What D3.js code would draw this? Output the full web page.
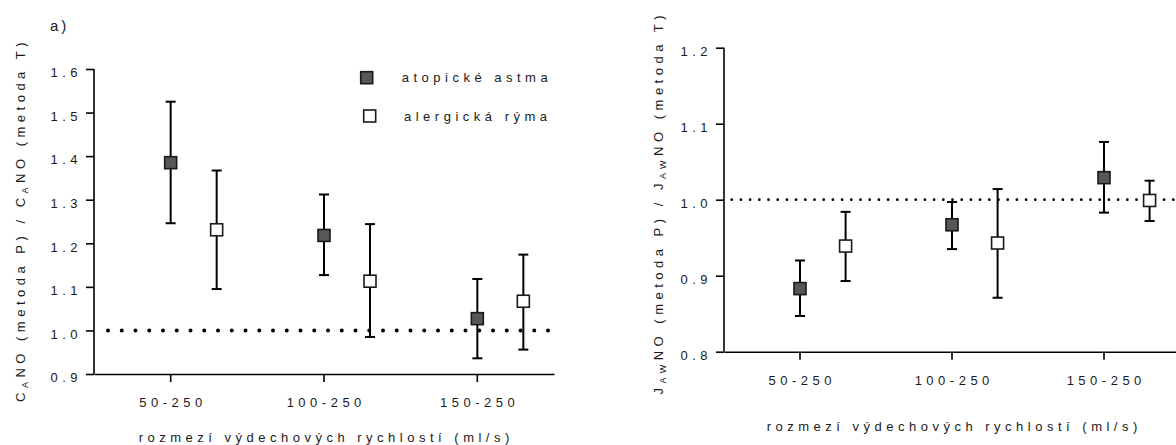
<!DOCTYPE html>
<html>
<head>
<meta charset="utf-8">
<script src="https://cdn.jsdelivr.net/npm/d3@7"></script>
<style>
  body { margin: 0; background: #fff; }
  svg text { font-family: "Liberation Sans", Arial, sans-serif; fill: #1a1a1a; }
</style>
</head>
<body>
<svg id="chart" width="1176" height="445"></svg>
<script>
const categories = ["50-250", "100-250", "150-250"];

// panel a) - C_A NO ratio
const caAsthmaMean = [1.385, 1.218, 1.027];
const caAsthmaLow = [1.246, 1.127, 0.936];
const caAsthmaHigh = [1.525, 1.312, 1.118];
const caRhinitisMean = [1.231, 1.113, 1.067];
const caRhinitisLow = [1.095, 0.985, 0.956];
const caRhinitisHigh = [1.367, 1.244, 1.174];
const caTicks = [0.9, 1.0, 1.1, 1.2, 1.3, 1.4, 1.5, 1.6];

// panel b) - J_AW NO ratio
const jawAsthmaMean = [0.883, 0.967, 1.029];
const jawAsthmaLow = [0.847, 0.935, 0.983];
const jawAsthmaHigh = [0.920, 0.997, 1.076];
const jawRhinitisMean = [0.939, 0.943, 0.999];
const jawRhinitisLow = [0.893, 0.871, 0.972];
const jawRhinitisHigh = [0.984, 1.014, 1.025];
const jawTicks = [0.8, 0.9, 1.0, 1.1, 1.2];

const legendLabels = ["atopické astma", "alergická rýma"];
const xTitle = "rozmezí výdechových rychlostí (ml/s)";

const FS = 13, LS = 4.5;
const svg = d3.select("#chart");
const fmt = d3.format(".1f");

function drawPanel(opt) {
  const g = svg.append("g").attr("transform", `translate(${opt.left},${opt.top})`);
  const x = d3.scaleBand().domain(categories).range([0, opt.width]);
  const y = d3.scaleLinear().domain(opt.yDomain).range([opt.height, 0]);
  const off = x.bandwidth() * 0.3;
  const cx = c => x(c) + x.bandwidth() / 2;

  // reference line at 1.0
  g.append("line")
    .attr("x1", opt.dotStart).attr("x2", opt.dotEnd)
    .attr("y1", y(1)).attr("y2", y(1))
    .attr("stroke", "#000")
    .attr("stroke-width", opt.dotSize)
    .attr("stroke-linecap", "round")
    .attr("stroke-dasharray", `0,${opt.dotGap}`);

  const yAxis = g.append("g")
    .call(d3.axisLeft(y).tickValues(opt.ticks).tickFormat(fmt).tickSize(8).tickPadding(4));
  const xAxis = g.append("g")
    .attr("transform", `translate(0,${opt.height})`)
    .call(d3.axisBottom(x).tickSize(8).tickSizeOuter(0).tickPadding(16));
  [yAxis, xAxis].forEach(a => {
    a.attr("font-family", null);
    a.selectAll("path, line").attr("stroke", "#000").attr("stroke-width", 1.6);
    a.selectAll("text")
      .attr("font-size", FS).style("letter-spacing", LS + "px")
      .attr("fill", "#1a1a1a");
  });
  yAxis.select(".domain").attr("d", `M0,${opt.height}V0`);
  yAxis.selectAll("text").attr("dy", "0.6em");
  xAxis.selectAll("text").attr("dx", LS / 2);

  const series = [
    { mean: opt.asthma[0], low: opt.asthma[1], high: opt.asthma[2], dx: 0, fill: "#575757" },
    { mean: opt.rhinitis[0], low: opt.rhinitis[1], high: opt.rhinitis[2], dx: off, fill: "#fff" }
  ];

  series.forEach(s => {
    const pts = categories.map((c, i) => ({ c, m: s.mean[i], lo: s.low[i], hi: s.high[i] }));
    const eb = g.append("g").attr("stroke", "#000").attr("stroke-width", 2);
    eb.selectAll(".stem").data(pts).enter().append("line")
      .attr("x1", d => cx(d.c) + s.dx).attr("x2", d => cx(d.c) + s.dx)
      .attr("y1", d => y(d.lo)).attr("y2", d => y(d.hi));
    eb.selectAll(".capHi").data(pts).enter().append("line")
      .attr("x1", d => cx(d.c) + s.dx - 5).attr("x2", d => cx(d.c) + s.dx + 5)
      .attr("y1", d => y(d.hi)).attr("y2", d => y(d.hi));
    eb.selectAll(".capLo").data(pts).enter().append("line")
      .attr("x1", d => cx(d.c) + s.dx - 5).attr("x2", d => cx(d.c) + s.dx + 5)
      .attr("y1", d => y(d.lo)).attr("y2", d => y(d.lo));
    g.selectAll(null).data(pts).enter().append("rect")
      .attr("x", d => cx(d.c) + s.dx - 6).attr("y", d => y(d.m) - 6)
      .attr("width", 12).attr("height", 12)
      .attr("fill", s.fill).attr("stroke", "#1a1a1a").attr("stroke-width", 1.6);
  });

  // x title
  g.append("text")
    .attr("x", cx(categories[1]) + LS / 2).attr("y", opt.height + opt.xTitleGap)
    .attr("text-anchor", "middle")
    .attr("font-size", FS).style("letter-spacing", LS + "px")
    .text(xTitle);

  // y title with subscripts
  const yt = g.append("text")
    .attr("transform", `translate(${opt.yTitleX},${opt.yTitleY}) rotate(-90)`)
    .attr("text-anchor", "middle")
    .attr("font-size", FS).style("letter-spacing", LS + "px");
  opt.yTitle.forEach(p => {
    const t = yt.append("tspan").text(p.t);
    if (p.sub) t.attr("font-size", 9).attr("baseline-shift", "-30%");
  });

  if (opt.legend) {
    legendLabels.forEach((lab, i) => {
      const L = opt.legend[i];
      g.append("rect")
        .attr("x", L.x - 6).attr("y", L.y - 6).attr("width", 12).attr("height", 12)
        .attr("fill", series[i].fill).attr("stroke", "#1a1a1a").attr("stroke-width", 1.6);
      g.append("text")
        .attr("x", L.tx).attr("y", L.y).attr("dy", "0.35em")
        .attr("font-size", FS).style("letter-spacing", LS + "px")
        .text(lab);
    });
  }
  return g;
}

const gA = drawPanel({
  left: 94, top: 69, width: 460, height: 305,
  yDomain: [0.9, 1.6], ticks: caTicks,
  asthma: [caAsthmaMean, caAsthmaLow, caAsthmaHigh],
  rhinitis: [caRhinitisMean, caRhinitisLow, caRhinitisHigh],
  dotStart: 14, dotEnd: 456, dotGap: 13.75, dotSize: 4,
  xTitleGap: 67.5, yTitleX: -69, yTitleY: 151,
  yTitle: [{ t: "C" }, { t: "A", sub: true }, { t: "NO (metoda P) / C" }, { t: "A", sub: true }, { t: "NO (metoda T)" }],
  legend: [{ x: 272.7, y: 8.7, tx: 307.7 }, { x: 275.7, y: 47, tx: 310 }]
});
gA.append("text")
  .attr("x", -44).attr("y", -38)
  .attr("font-size", 15).style("letter-spacing", "3px")
  .text("a)");

drawPanel({
  left: 724, top: 47.7, width: 456, height: 304,
  yDomain: [0.8, 1.2], ticks: jawTicks,
  asthma: [jawAsthmaMean, jawAsthmaLow, jawAsthmaHigh],
  rhinitis: [jawRhinitisMean, jawRhinitisLow, jawRhinitisHigh],
  dotStart: 7.7, dotEnd: 460, dotGap: 9.2, dotSize: 2.8,
  xTitleGap: 79, yTitleX: -61, yTitleY: 155,
  yTitle: [{ t: "J" }, { t: "AW", sub: true }, { t: "NO (metoda P) / J" }, { t: "AW", sub: true }, { t: "NO (metoda T)" }]
});
</script>
</body>
</html>
